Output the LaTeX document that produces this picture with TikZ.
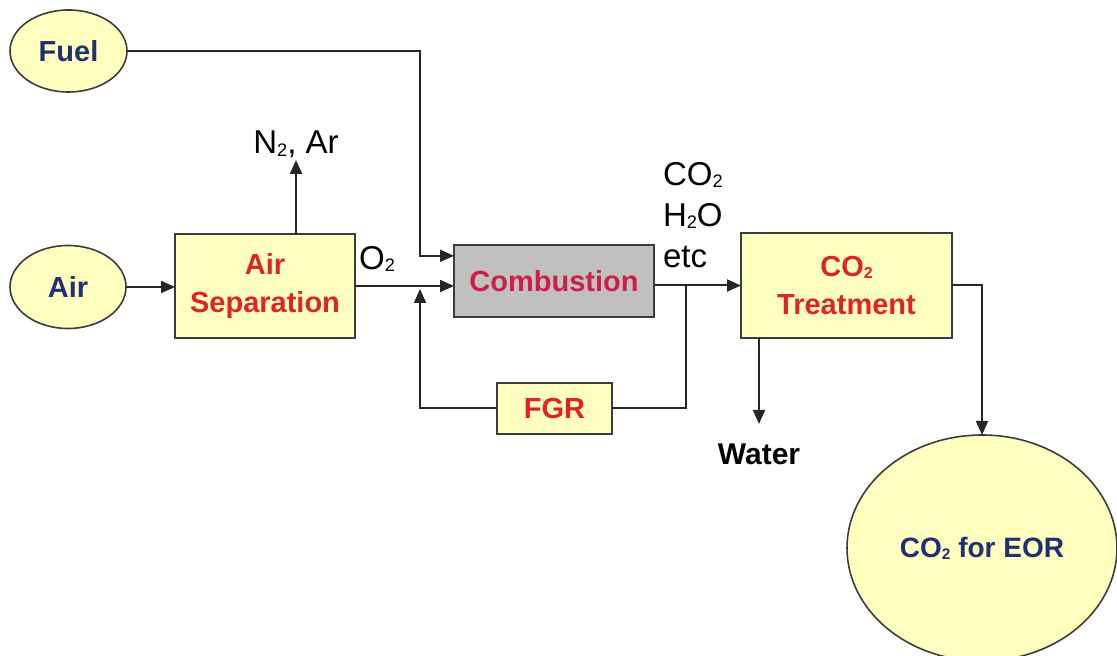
\documentclass[tikz,border=0pt]{standalone}
\usepackage{fontspec}
\usepackage{graphicx}
\setmainfont{Liberation Sans}
\usetikzlibrary{arrows.meta,shapes.geometric,calc}
\newcommand{\subtwo}{\raisebox{-0.08em}{\scalebox{0.55}{2}}}
\definecolor{boxyellow}{RGB}{255,255,192}
\definecolor{combgray}{RGB}{192,192,192}
\definecolor{redtext}{RGB}{225,35,35}
\definecolor{combtext}{RGB}{205,30,75}
\definecolor{bluetext}{RGB}{30,50,115}
\definecolor{edge}{RGB}{60,60,60}
\tikzset{
  every node/.style={outer sep=0pt},
  srcell/.style={ellipse, draw=edge, line width=0.8pt, fill=boxyellow, text=bluetext,
    font=\fontsize{14.5}{17}\selectfont\bfseries, inner sep=0pt},
  procbox/.style={rectangle, draw=edge, line width=1pt, fill=boxyellow, text=redtext,
    font=\fontsize{14.5}{19}\selectfont\bfseries, align=center, inner sep=0pt},
  lbl/.style={font=\fontsize{16.5}{20.5}\selectfont, text=black, inner sep=1pt},
  conn/.style={line width=1pt, draw=black!85},
  arr/.style={conn, -{Triangle[length=7pt,width=6pt]}},
}
\begin{document}
\begin{tikzpicture}[x=0.5pt,y=-0.5pt]
\useasboundingbox (0,0) rectangle (1117,656);
\clip (0,0) rectangle (1117,656);
% nodes
\node[srcell, minimum width=58.5pt, minimum height=41pt] (fuel) at (68.5,51) {Fuel};
\node[srcell, minimum width=58pt, minimum height=41.5pt] (air) at (68,287) {Air};
\node[procbox, minimum width=90pt, minimum height=52pt] (sep) at (265,286) {Air\\Separation};
\node[procbox, fill=combgray, text=combtext, minimum width=100pt, minimum height=36pt] (comb) at (554,281) {Combustion};
\node[procbox, minimum width=57.5pt, minimum height=25.5pt] (fgr) at (554.5,408.5) {FGR};
\node[procbox, minimum width=105.5pt, minimum height=52.5pt] (treat) at (846.5,285.5) {CO\subtwo\\Treatment};
\node[srcell, minimum width=135pt, minimum height=113pt, font=\fontsize{14}{17}\selectfont\bfseries] (eor) at (982,548) {CO\subtwo{} for EOR};
% labels
\node[lbl, anchor=south] (n2) at (296,160) {N\subtwo, Ar};
\node[lbl] (o2) at (377,259) {O\subtwo};
\node[lbl, anchor=north west, align=left] (prod) at (661,160) {CO\subtwo\\H\subtwo O\\etc};
\node[lbl, anchor=north, font=\fontsize{15}{18}\selectfont\bfseries] (water) at (759,442) {Water};
% junction coordinates
\coordinate (fc) at (420,51);
\coordinate (fin) at ($(comb.north west)!0.15!(comb.south west)$);
\coordinate (mix) at (420,289);
\coordinate (split) at (686,286);
% connectors
\draw[arr] (fuel.east) -- (fuel.east -| fc) |- (fin);
\draw[arr] (air.east) -- (air.east -| sep.west);
\draw[arr] (sep.north -| n2) -- (n2.south);
\draw[arr] (sep.east) -- (sep.east -| comb.west);
\draw[arr] (comb.east |- treat.west) -- (treat.west);
\draw[conn] (split) |- (fgr.east);
\draw[arr] (fgr.west) -| (mix);
\draw[arr, shorten >=9pt] (treat.south -| water) -- (water.north);
\draw[arr] (treat.east) -| (eor.north);
\end{tikzpicture}
\end{document}
